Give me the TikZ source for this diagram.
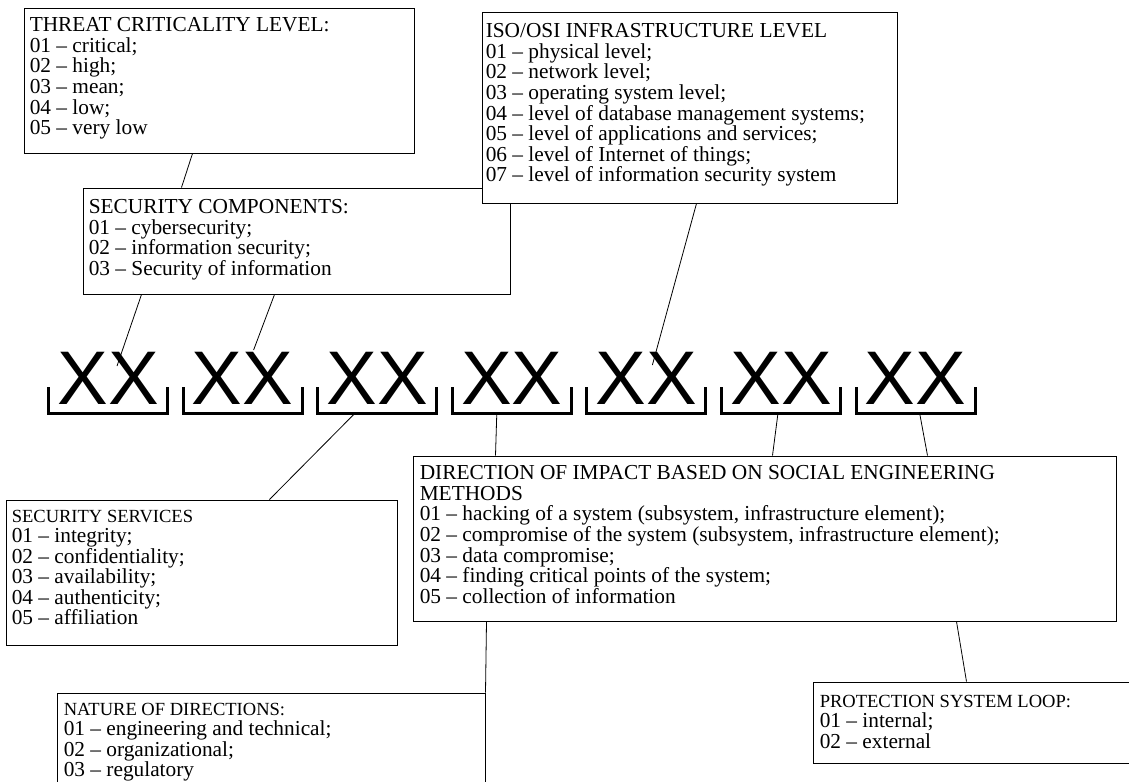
\documentclass[tikz,border=0pt]{standalone}
\usepackage{fontspec}
\setmainfont{Liberation Serif}
\newfontfamily\xxfont{Liberation Sans}
\usetikzlibrary{calc,fit}

\tikzset{
  box/.style={draw, fill=white, line width=0.75pt, inner sep=0pt},
  txt/.style={anchor=north west, inner sep=0pt, align=left,
    font=\fontsize{16}{15.4}\selectfont},
  xx/.style={anchor=base, inner sep=0pt, font=\xxfont\fontsize{57}{57}\selectfont},
  bracket/.style={line width=2.25pt},
  link/.style={line width=0.6pt}
}
\newcommand{\hdsize}{\fontsize{13.9}{15.4}\selectfont}

\begin{document}
\begin{tikzpicture}[x=0.75pt,y=-0.75pt]
  \useasboundingbox (0,0) rectangle (1129,782);
  \fill[white] (0,0) rectangle (1129,782);
  \clip (0,0) rectangle (1129,782);

  %boxes
  \node[box, fit={(24,8) (414,153)}] (thr) {};
  \node[txt] (thrtxt) at ($(thr.north west)+(6,10)$) {THREAT CRITICALITY LEVEL:\\
    01 -- critical;\\ 02 -- high;\\ 03 -- mean;\\ 04 -- low;\\ 05 -- very low};

  \node[box, fit={(83,188) (510,294)}] (sc) {};
  \node[txt] (sctxt) at ($(sc.north west)+(6,12)$) {SECURITY COMPONENTS:\\
    01 -- cybersecurity;\\ 02 -- information security;\\ 03 -- Security of information};

  \node[box, fit={(482,12) (897,203)}] (iso) {};
  \node[txt] (isotxt) at ($(iso.north west)+(4,12)$) {ISO/OSI INFRASTRUCTURE LEVEL\\
    01 -- physical level;\\ 02 -- network level;\\ 03 -- operating system level;\\
    04 -- level of database management systems;\\ 05 -- level of applications and services;\\
    06 -- level of Internet of things;\\ 07 -- level of information security system};

  \node[box, fit={(6,500) (397,645)}] (ss) {};
  \node[txt] (sstxt) at ($(ss.north west)+(6,10)$) {{\hdsize SECURITY SERVICES}\\
    01 -- integrity;\\ 02 -- confidentiality;\\ 03 -- availability;\\
    04 -- authenticity;\\ 05 -- affiliation};

  \node[box, fit={(413,456) (1116,621)}] (dir) {};
  \node[txt] (dirtxt) at ($(dir.north west)+(7,10)$) {DIRECTION OF IMPACT BASED ON SOCIAL ENGINEERING\\
    METHODS\\ 01 -- hacking of a system (subsystem, infrastructure element);\\
    02 -- compromise of the system (subsystem, infrastructure element);\\
    03 -- data compromise;\\ 04 -- finding critical points of the system;\\
    05 -- collection of information};

  \node[box, fit={(57,693) (485,820)}] (nat) {};
  \node[txt] (nattxt) at ($(nat.north west)+(7,10)$) {{\hdsize NATURE OF DIRECTIONS:}\\
    01 -- engineering and technical;\\ 02 -- organizational;\\ 03 -- regulatory};

  \node[box, fit={(813,682) (1170,763)}] (prot) {};
  \node[txt] (prottxt) at ($(prot.north west)+(7,13)$) {{\hdsize PROTECTION SYSTEM LOOP:}\\
    01 -- internal;\\ 02 -- external};

  %code positions
  \foreach \i in {1,...,7}{
    \pgfmathsetmacro\gx{108+134.6*(\i-1)}
    \node[xx] (g\i) at (\gx,404) {XX};
    \draw[bracket] ($(g\i.base)+(-59.5,-17)$) |- ($(g\i.base)+(0,9)$) -| ($(g\i.base)+(59.5,-17)$);
  }

  %links
  \draw[link] ($(thr.south west)+(169,0)$) -- ($(sc.north west)+(99,0)$);
  \draw[link] ($(sc.south west)+(59,0)$) -- ($(g1.base)+(9,-38)$);
  \draw[link] ($(sc.south west)+(192,0)$) -- ($(g2.base)+(11,-54)$);
  \draw[link] ($(iso.south west)+(215,0)$) -- ($(g5.base)+(6,-39)$);
  \draw[link] ($(g3.base)+(-22,9)$) -- ($(ss.north west)+(264,0)$);
  \draw[link] ($(g4.base)+(-15,9)$) -- ($(dir.north west)+(83,0)$);
  \draw[link] ($(g6.base)+(-3,9)$) -- ($(dir.north west)+(360,0)$);
  \draw[link] ($(g7.base)+(4,9)$) -- ($(dir.north west)+(515,0)$);
  \draw[link] ($(dir.south west)+(74,0)$) -- (nat.north east);
  \draw[link] ($(dir.south west)+(544,0)$) -- ($(prot.north west)+(154,0)$);
\end{tikzpicture}
\end{document}
